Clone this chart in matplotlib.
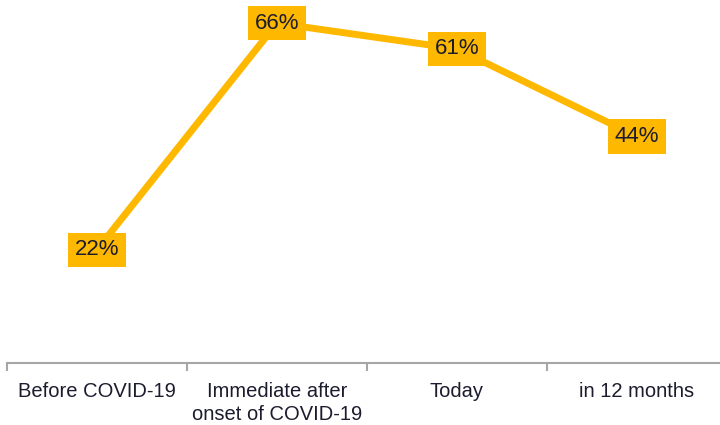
import matplotlib.pyplot as plt
import numpy as np

categories = ["Before COVID-19", "Immediate after\nonset of COVID-19", "Today", "in 12 months"]
values = [22, 66, 61, 44]
labels = ["22%", "66%", "61%", "44%"]

line_color = "#FFB800"
text_color = "#1C1C2E"
axis_color = "#A6A6A6"

plt.rcParams["font.family"] = ["Liberation Sans", "DejaVu Sans"]

fig = plt.figure(figsize=(7.2, 4.25), dpi=100)
ax = fig.add_axes([7 / 720, 1 - 363 / 425, 720 / 720, 363 / 425])

x = np.arange(len(categories))
ax.plot(x, values, color=line_color, lw=5, solid_joinstyle="miter", zorder=2)

for xi, v, lab in zip(x, values, labels):
    ax.text(xi, v, lab, ha="center", va="center", fontsize=16, color=text_color, zorder=3,
            bbox=dict(boxstyle="square,pad=0.3", fc=line_color, ec="none"))

ax.set_xlim(-0.5, 3.5)
ax.set_ylim(0, 70.5)

for s in ["top", "right", "left"]:
    ax.spines[s].set_visible(False)
ax.spines["bottom"].set_color(axis_color)
ax.spines["bottom"].set_linewidth(1.5)

ax.set_yticks([])
ax.set_xticks(x)
ax.set_xticklabels(categories, fontsize=14.5, color=text_color, linespacing=1.25)
ax.tick_params(axis="x", which="major", length=0, pad=14)
ax.set_xticks(np.arange(-0.5, 3.5, 1), minor=True)
ax.tick_params(axis="x", which="minor", length=6, width=1.5, color=axis_color)

fig.savefig("out.png", dpi=100)
